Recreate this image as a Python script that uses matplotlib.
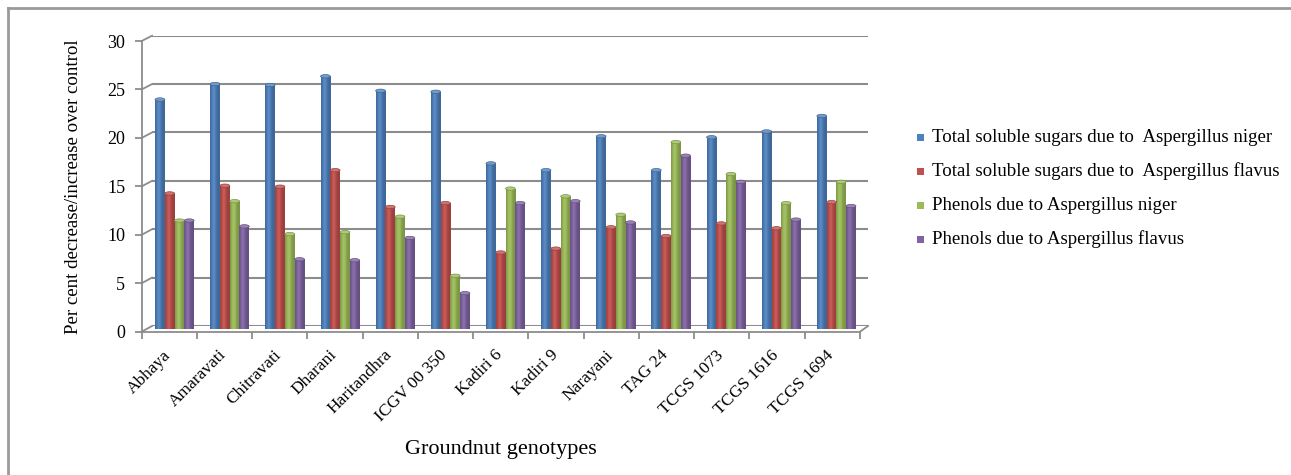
import numpy as np
import matplotlib
matplotlib.use("Agg")
import matplotlib.pyplot as plt
from matplotlib.lines import Line2D
from matplotlib.patches import Ellipse, Rectangle
from matplotlib.colors import to_rgb
from matplotlib.transforms import ScaledTranslation

# ---- data -------------------------------------------------------------
genotypes = ["Abhaya", "Amaravati", "Chitravati", "Dharani", "Haritandhra",
             "ICGV 00 350", "Kadiri 6", "Kadiri 9", "Narayani", "TAG 24",
             "TCGS 1073", "TCGS 1616", "TCGS 1694"]
sugars_niger = [23.7, 25.3, 25.2, 26.1, 24.6, 24.5, 17.1, 16.4, 19.9, 16.4, 19.8, 20.4, 22.0]
sugars_flavus = [14.0, 14.8, 14.7, 16.4, 12.6, 13.0, 7.9, 8.3, 10.5, 9.6, 10.9, 10.4, 13.1]
phenols_niger = [11.2, 13.2, 9.8, 10.0, 11.6, 5.5, 14.5, 13.7, 11.8, 19.3, 16.0, 13.0, 15.2]
phenols_flavus = [11.2, 10.6, 7.2, 7.1, 9.4, 3.7, 13.0, 13.2, 11.0, 17.9, 15.2, 11.3, 12.7]
series_labels = ["Total soluble sugars due to  Aspergillus niger",
                 "Total soluble sugars due to  Aspergillus flavus",
                 "Phenols due to Aspergillus niger",
                 "Phenols due to Aspergillus flavus"]
y_ticks = [0, 5, 10, 15, 20, 25, 30]

series = [sugars_niger, sugars_flavus, phenols_niger, phenols_flavus]
colors = ["#4F81BD", "#C0504D", "#9BBB59", "#8064A2"]
GRID = "#8c8c8c"

plt.rcParams["font.family"] = ["Liberation Serif", "DejaVu Serif"]

W, H = 1291, 475
fig = plt.figure(figsize=(W / 100, H / 100), dpi=100)


def box(x0, x1, yb, yt):
    return [x0 / W, 1 - yb / H, (x1 - x0) / W, (yb - yt) / H]


def fpt(x, y):
    return x / W, 1 - y / H


n = len(genotypes)
YMAX = 30

# back wall with gridlines
ax_back = fig.add_axes(box(152, 868, 326, 35.7), zorder=0)
ax_back.set_xlim(-0.5, n - 0.5)
ax_back.set_ylim(0, YMAX)
ax_back.set_yticks(y_ticks)
ax_back.set_xticks([])
ax_back.tick_params(left=False, labelleft=False)
ax_back.grid(axis="y", color=GRID, lw=1.5)
for s in ax_back.spines.values():
    s.set_visible(False)
ax_back.patch.set_alpha(0)

# front axis frame with ticks and labels
ax_front = fig.add_axes(box(141.7, 860, 331.7, 41), zorder=1)
ax_front.set_xlim(-0.5, n - 0.5)
ax_front.set_ylim(0, YMAX)
ax_front.patch.set_alpha(0)
for side in ("top", "right"):
    ax_front.spines[side].set_visible(False)
for side in ("left", "bottom"):
    ax_front.spines[side].set_color(GRID)
    ax_front.spines[side].set_linewidth(1.3)
ax_front.set_yticks(y_ticks)
ax_front.set_yticklabels([str(v) for v in y_ticks], fontsize=13)
ax_front.set_xticks(np.arange(-0.5, n, 1.0))
ax_front.set_xticklabels([])
ax_front.set_xticks(np.arange(n), minor=True)
ax_front.set_xticklabels(genotypes, minor=True, rotation=45, ha="right",
                         va="top", fontsize=12.5)
ax_front.tick_params(axis="both", which="major", direction="out", length=5,
                     color=GRID, width=1.3)
ax_front.tick_params(axis="y", pad=7)
ax_front.tick_params(axis="x", which="minor", length=0, pad=11)
shift = ScaledTranslation(5 / 100, 0, fig.dpi_scale_trans)
for lab in ax_front.get_xticklabels(minor=True):
    lab.set_transform(lab.get_transform() + shift)
ax_front.set_xlabel("Groundnut genotypes", fontsize=16, labelpad=11)
ax_front.set_ylabel("Per cent decrease/increase over control", fontsize=13.6,
                    labelpad=18)

# depth edges joining the front frame to the back wall
for v in y_ticks:
    yf = 331.7 - (331.7 - 41) * v / YMAX
    yb = 326 - (326 - 35.7) * v / YMAX
    (x0, y0), (x1, y1) = fpt(141.7, yf), fpt(152, yb)
    fig.add_artist(Line2D([x0, x1], [y0, y1], color=GRID, lw=1.3, zorder=1))
(x0, y0), (x1, y1) = fpt(860, 331.7), fpt(868, 326)
fig.add_artist(Line2D([x0, x1], [y0, y1], color=GRID, lw=1.3, zorder=1))

# bars, drawn half way into the depth
ax = fig.add_axes(box(147, 864, 329, 38.5), zorder=2)
ax.set_xlim(-0.5, n - 0.5)
ax.set_ylim(0, YMAX)
ax.axis("off")
ax.patch.set_alpha(0)

bw = 0.177
x = np.arange(n)
t = np.linspace(0, 1, 64)
profile = 0.80 + 0.28 * np.exp(-((t - 0.38) / 0.25) ** 2)
cap_h = 3.4 / ((329 - 38.5) / YMAX)

for k, (vals, col) in enumerate(zip(series, colors)):
    base = np.array(to_rgb(col))
    grad = np.empty((1, len(t), 3))
    for j, p in enumerate(profile):
        if p <= 1:
            grad[0, j] = base * p
        else:
            grad[0, j] = base + (1 - base) * (p - 1)
    bars = ax.bar(x + (k - 1.5) * bw, vals, bw, color=col, lw=0, zorder=2)
    lighter = base + (1 - base) * 0.2
    darker = base * 0.8
    for b in bars:
        x0, w, h = b.get_x(), b.get_width(), b.get_height()
        im = ax.imshow(grad, extent=[x0, x0 + w, 0, h], aspect="auto",
                       interpolation="bilinear", zorder=2.5)
        im.set_clip_path(b)
        ax.add_patch(Ellipse((x0 + w / 2, h), w, cap_h, facecolor=lighter,
                             edgecolor=darker, lw=0.5, zorder=3))
ax.set_xlim(-0.5, n - 0.5)
ax.set_ylim(0, YMAX)

# legend
rows = [137, 171, 205, 239]
for lab, col, yr in zip(series_labels, colors, rows):
    fx, fy = fpt(917, yr + 3.5)
    fig.patches.append(Rectangle((fx, fy), 7 / W, 7 / H, facecolor=col,
                                 edgecolor="none", transform=fig.transFigure))
    tx, ty = fpt(932, yr)
    fig.text(tx, ty, lab, fontsize=13.6, va="center", ha="left")

# outer frame
fig.add_artist(Line2D([8 / W, 1.0], [1 - 8 / H, 1 - 8 / H], color="#9a9a9a", lw=2))
fig.add_artist(Line2D([8 / W, 8 / W], [1 - 8 / H, 0.0], color="#9a9a9a", lw=2))

fig.savefig("out.png", dpi=100)
